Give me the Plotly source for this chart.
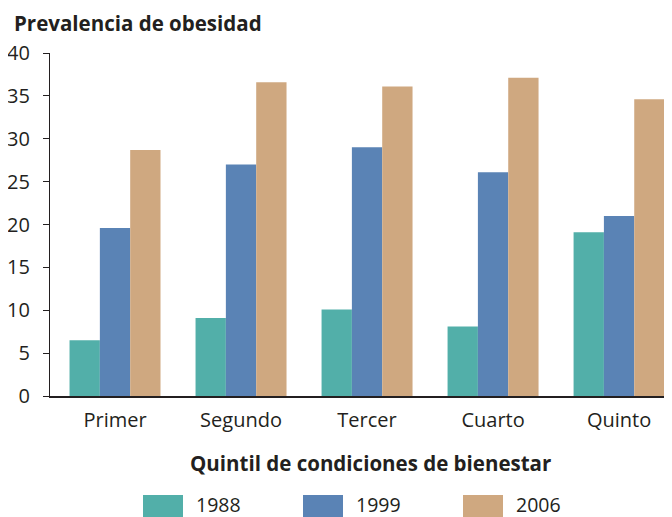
import plotly.graph_objects as go

categories = ["Primer", "Segundo", "Tercer", "Cuarto", "Quinto"]
series_names = ["1988", "1999", "2006"]
values_1988 = [6.5, 9.1, 10.1, 8.1, 19.1]
values_1999 = [19.6, 27.0, 29.0, 26.1, 21.0]
values_2006 = [28.7, 36.6, 36.1, 37.1, 34.6]
colors = ["#52AFA9", "#5A83B5", "#CFA880"]
y_ticks = [0, 5, 10, 15, 20, 25, 30, 35, 40]

FONT = "Open Sans"
TXT = "#231F20"

# page body adds an 8px margin; lay out in reference pixel coords minus this offset
OFF = 8
W, H = 672 - OFF, 517 - OFF
L, R, T, B = 50 - OFF, 0, 53 - OFF, 121
pw, ph = W - L - R, H - T - B


def px_x(x):
    return (x - OFF - L) / pw


def px_y(y):
    return 1 - (y - OFF - T) / ph


fig = go.Figure()
for name, vals, col in zip(series_names, [values_1988, values_1999, values_2006], colors):
    fig.add_trace(go.Bar(x=categories, y=vals, name=name, marker=dict(color=col, line=dict(width=0)),
                         showlegend=False))

fig.update_layout(
    width=W, height=H,
    margin=dict(l=L, r=R, t=T, b=B, pad=0),
    barmode="group", bargap=0.278, bargroupgap=0,
    plot_bgcolor="white", paper_bgcolor="white",
    font=dict(family=FONT, size=20, color=TXT),
    xaxis=dict(range=[-0.516, 4.42], showline=True, linecolor=TXT, linewidth=1.5,
               ticks="", showgrid=False, tickfont=dict(size=20, color=TXT), ticklabelstandoff=5),
    yaxis=dict(range=[0, 40], tickvals=y_ticks, showline=True, linecolor=TXT, linewidth=1.2,
               ticks="outside", ticklen=6, tickcolor=TXT, tickwidth=1, showgrid=False, zeroline=False,
               tickfont=dict(size=20, color=TXT), ticklabelstandoff=9),
)

# Titles
fig.add_annotation(text="<b>Prevalencia de obesidad</b>", xref="paper", yref="paper",
                   x=px_x(12), y=px_y(23), xanchor="left", yanchor="middle", showarrow=False,
                   font=dict(size=20.5, color=TXT, family=FONT))
fig.add_annotation(text="<b>Quintil de condiciones de bienestar</b>", xref="paper", yref="paper",
                   x=px_x(370), y=px_y(463), xanchor="center", yanchor="middle", showarrow=False,
                   font=dict(size=20.5, color=TXT, family=FONT))

# Legend built from series names and colors
for i, (name, col) in enumerate(zip(series_names, colors)):
    x0 = 143 + 160 * i
    fig.add_shape(type="rect", xref="paper", yref="paper",
                  x0=px_x(x0), x1=px_x(x0 + 40), y0=px_y(517), y1=px_y(495),
                  fillcolor=col, line=dict(width=0))
    fig.add_annotation(text=name, xref="paper", yref="paper",
                       x=px_x(x0 + 51), y=px_y(504), xanchor="left", yanchor="middle", showarrow=False,
                       font=dict(size=19.5, color=TXT, family=FONT))

fig.write_html("out.html")
